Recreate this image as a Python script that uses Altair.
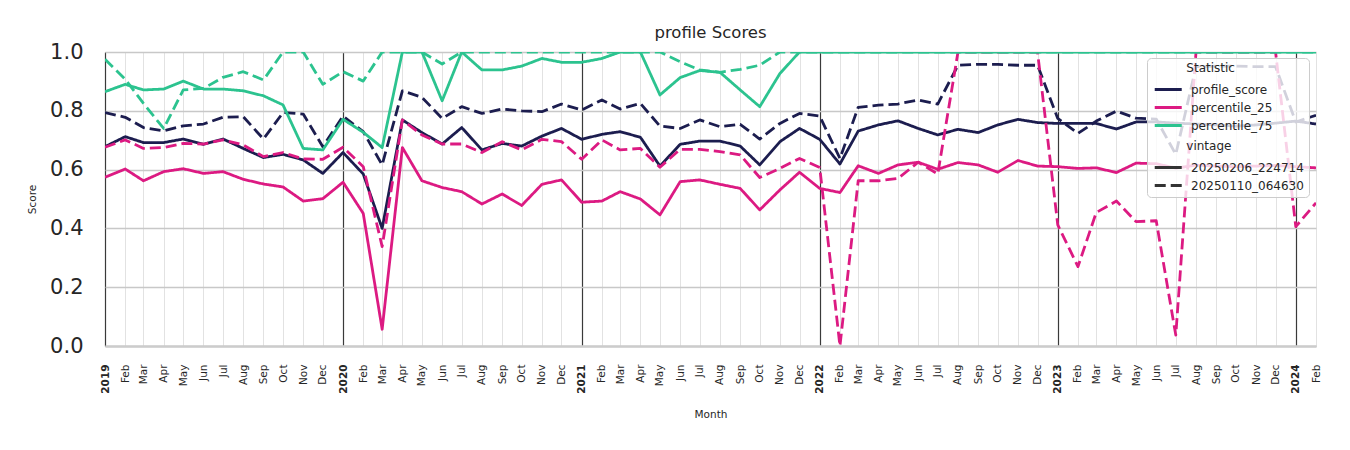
import altair as alt
import pandas as pd

# ---------------- data ----------------
months = pd.date_range("2019-01-01", "2024-02-01", freq="MS").strftime("%Y-%m-%d").tolist()

statistics = ["profile_score", "percentile_25", "percentile_75"]
vintages = ["20250206_224714", "20250110_064630"]

profile_score_0206 = [
    0.678, 0.712, 0.692, 0.692, 0.704, 0.686, 0.704, 0.672, 0.641, 0.652, 0.633, 0.587,
    0.658, 0.585, 0.400, 0.769, 0.726, 0.687, 0.743, 0.667, 0.689, 0.680, 0.714, 0.740,
    0.703, 0.720, 0.729, 0.710, 0.612, 0.686, 0.697, 0.697, 0.680, 0.616, 0.695, 0.740,
    0.703, 0.619, 0.731, 0.752, 0.766, 0.740, 0.718, 0.737, 0.726, 0.752, 0.771, 0.760,
    0.757, 0.757, 0.757, 0.738, 0.762, 0.762, 0.758, 0.755, 0.752, 0.748, 0.752, 0.758,
    0.765, 0.755,
]
percentile_25_0206 = [
    0.574, 0.602, 0.562, 0.593, 0.603, 0.587, 0.593, 0.567, 0.551, 0.541, 0.493, 0.501,
    0.557, 0.451, 0.057, 0.675, 0.562, 0.539, 0.525, 0.483, 0.517, 0.478, 0.550, 0.565,
    0.489, 0.493, 0.525, 0.500, 0.446, 0.559, 0.565, 0.550, 0.536, 0.463, 0.531, 0.591,
    0.536, 0.522, 0.613, 0.587, 0.616, 0.625, 0.601, 0.624, 0.616, 0.591, 0.631, 0.612,
    0.610, 0.604, 0.606, 0.590, 0.622, 0.620, 0.605, 0.615, 0.612, 0.610, 0.612, 0.614,
    0.610, 0.606,
]
percentile_75_0206 = [
    0.865, 0.890, 0.871, 0.874, 0.901, 0.874, 0.874, 0.868, 0.851, 0.820, 0.672, 0.667,
    0.771, 0.727, 0.675, 1.000, 1.000, 0.834, 1.000, 0.939, 0.939, 0.952, 0.978, 0.965,
    0.965, 0.978, 1.000, 1.000, 0.854, 0.913, 0.937, 0.931, 0.871, 0.814, 0.927, 1.000,
    1.000, 1.000, 1.000, 1.000, 1.000, 1.000, 1.000, 1.000, 1.000, 1.000, 1.000, 1.000,
    1.000, 1.000, 1.000, 1.000, 1.000, 1.000, 1.000, 1.000, 1.000, 1.000, 1.000, 1.000,
    1.000, 1.000,
]
profile_score_0110 = [
    0.794, 0.778, 0.743, 0.732, 0.749, 0.755, 0.778, 0.780, 0.704, 0.794, 0.789, 0.678,
    0.782, 0.729, 0.616, 0.868, 0.846, 0.774, 0.814, 0.791, 0.806, 0.800, 0.797, 0.823,
    0.803, 0.837, 0.806, 0.825, 0.748, 0.740, 0.769, 0.746, 0.754, 0.704, 0.757, 0.791,
    0.782, 0.638, 0.812, 0.819, 0.823, 0.837, 0.823, 0.955, 0.958, 0.958, 0.955, 0.955,
    0.774, 0.723, 0.765, 0.799, 0.775, 0.772, 0.652, 0.950, 0.952, 0.952, 0.950, 0.950,
    0.762, 0.785,
]
percentile_25_0110 = [
    0.676, 0.701, 0.672, 0.675, 0.689, 0.687, 0.701, 0.684, 0.644, 0.658, 0.636, 0.635,
    0.676, 0.610, 0.338, 0.769, 0.718, 0.687, 0.687, 0.658, 0.695, 0.667, 0.703, 0.695,
    0.635, 0.701, 0.667, 0.672, 0.608, 0.669, 0.669, 0.661, 0.650, 0.573, 0.604, 0.638,
    0.607, 0.000, 0.562, 0.562, 0.570, 0.625, 0.585, 1.000, 1.000, 1.000, 1.000, 1.000,
    0.412, 0.270, 0.454, 0.493, 0.423, 0.426, 0.037, 1.000, 1.000, 1.000, 1.000, 1.000,
    0.406, 0.487,
]
percentile_75_0110 = [
    0.975, 0.907, 0.825, 0.740, 0.871, 0.876, 0.914, 0.933, 0.905, 1.000, 1.000, 0.890,
    0.933, 0.901, 1.000, 1.000, 1.000, 0.959, 1.000, 1.000, 1.000, 1.000, 1.000, 1.000,
    1.000, 1.000, 1.000, 1.000, 1.000, 0.967, 0.939, 0.931, 0.941, 0.955, 1.000, 1.000,
    1.000, 1.000, 1.000, 1.000, 1.000, 1.000, 1.000, 1.000, 1.000, 1.000, 1.000, 1.000,
    1.000, 1.000, 1.000, 1.000, 1.000, 1.000, 1.000, 1.000, 1.000, 1.000, 1.000, 1.000,
    1.000, 1.000,
]

series = {
    ("profile_score", vintages[0]): profile_score_0206,
    ("percentile_25", vintages[0]): percentile_25_0206,
    ("percentile_75", vintages[0]): percentile_75_0206,
    ("profile_score", vintages[1]): profile_score_0110,
    ("percentile_25", vintages[1]): percentile_25_0110,
    ("percentile_75", vintages[1]): percentile_75_0110,
}

rows = []
for (stat, vint), vals in series.items():
    for m, v in zip(months, vals):
        rows.append({"Month": m, "Score": v, "Statistic": stat, "vintage": vint})
df = pd.DataFrame(rows)

# ---------------- style ----------------
FONT = "DejaVu Sans"
TXT = "#262626"
NAVY = "#1c1d4f"
PINK = "#dc1a82"
GREEN = "#2cc38f"
ZW = "\u200b"
NB = "\u00a0"
INDENT = ZW + NB * 9
BLANK = ZW + NB

legend_common = dict(
    orient="none",
    legendX=1042,
    legendY=6,
    padding=5,
    rowPadding=0,
    titlePadding=3,
    labelOffset=16,
    symbolType="M-0.9,0L1.87,0",
    symbolSize=380,
    symbolStrokeWidth=3,
    labelFontSize=12,
    titleFontSize=12,
    titleFontWeight="normal",
    titleLineHeight=19.5,
    labelFont=FONT,
    titleFont=FONT,
    labelColor=TXT,
    titleColor=TXT,
    cornerRadius=4,
    titleLimit=400,
)

# colour legend sits on top of the vintage legend's box (no box of its own)
color = alt.Color(
    "Statistic:N",
    scale=alt.Scale(domain=statistics, range=[NAVY, PINK, GREEN]),
    legend=alt.Legend(title=INDENT + "Statistic", zindex=3, **legend_common),
)
# vintage legend draws the shared frame; its title is pushed below the colour entries
dash = alt.StrokeDash(
    "vintage:N",
    scale=alt.Scale(domain=vintages, range=[[1, 0], [11, 5]]),
    legend=alt.Legend(
        title=[BLANK, BLANK, BLANK, BLANK, INDENT + "vintage"],
        symbolStrokeColor="#333333",
        fillColor="rgba(255,255,255,0.8)",
        strokeColor="#cccccc",
        zindex=2,
        **legend_common,
    ),
)

month_test = "utcmonth(datum.value) == 0"

x = alt.X(
    "Month:T",
    title="Month",
    scale=alt.Scale(
        type="utc",
        domain=[alt.DateTime(year=2019, month=1, date=1, utc=True),
                alt.DateTime(year=2024, month=2, date=1, utc=True)],
        nice=False,
    ),
    axis=alt.Axis(
        tickCount=alt.TimeIntervalStep(interval="month", step=1),
        labelExpr="utcmonth(datum.value) == 0 ? utcFormat(datum.value, '%Y') : utcFormat(datum.value, '%b')",
        labelAngle=270,
        labelAlign="right",
        labelBaseline="middle",
        labelPadding=18,
        labelFontSize=10.5,
        labelFont=FONT,
        labelColor=TXT,
        labelOverlap=False,
        labelFlush=False,
        labelFontWeight=alt.condition(month_test, alt.value("bold"), alt.value("normal")),
        ticks=False,
        gridColor=alt.condition(month_test, alt.value("#3a3a3a"), alt.value("#e2e2e2")),
        gridWidth=alt.condition(month_test, alt.value(1.2), alt.value(1)),
        domainColor="#cccccc",
        domainWidth=2.5,
        titleFont=FONT,
        titleFontSize=10.5,
        titleFontWeight="normal",
        titleColor=TXT,
        titleY=68,
        titleBaseline="middle",
    ),
)
y = alt.Y(
    "Score:Q",
    title="Score",
    scale=alt.Scale(domain=[0, 1], nice=False, zero=False),
    axis=alt.Axis(
        values=[0, 0.2, 0.4, 0.6, 0.8, 1.0],
        format=".1f",
        labelFontSize=21,
        labelFont=FONT,
        labelColor=TXT,
        labelPadding=22,
        ticks=False,
        domain=False,
        gridColor="#c8c8c8",
        gridWidth=1.6,
        titleFont=FONT,
        titleFontSize=10.5,
        titleFontWeight="normal",
        titleColor=TXT,
        titleX=-73,
        titleY=147,
        titleAngle=270,
        titleAlign="center",
        titleBaseline="middle",
    ),
)

base = alt.Chart(df).mark_line(strokeWidth=2.8, clip=True, strokeJoin="round").encode(
    x=x, y=y, color=color, strokeDash=dash,
    detail="vintage:N",
)

layers = [base.transform_filter(alt.datum.Statistic == s) for s in statistics]

chart = alt.layer(*layers).properties(
    width=1211,
    height=294,
    autosize=alt.AutoSizeParams(type="none"),
    padding={"left": 97, "top": 44, "right": 20, "bottom": 80},
    title=alt.TitleParams(
        "profile Scores", fontSize=16.5, font=FONT, fontWeight="normal",
        color=TXT, offset=0, anchor="middle",
    ),
).configure_view(stroke="transparent").configure(font=FONT)

chart.save("out.html", embed_options={"renderer": "svg", "actions": False})
